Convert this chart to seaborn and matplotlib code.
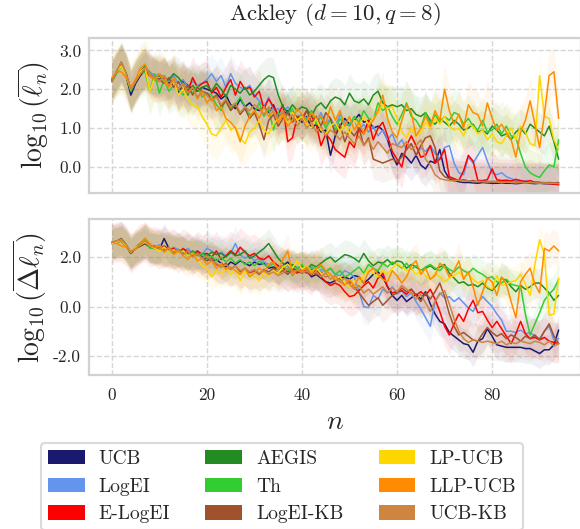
import matplotlib
matplotlib.use('Agg')
import matplotlib.pyplot as plt
from matplotlib.patches import Patch
from matplotlib.ticker import FormatStrFormatter
import numpy as np
import pandas as pd
import seaborn as sns

# methods in legend order (column by column)
methods = ['UCB', 'LogEI', 'E-LogEI', 'AEGIS', 'Th', 'LogEI-KB', 'LP-UCB', 'LLP-UCB', 'UCB-KB']
colors = ['#191970', '#6495ED', '#FF0000', '#228B22', '#32CD32', '#A0522D', '#FFD700', '#FF8C00', '#CD853F']

n_iter = list(range(95))

# ---- top panel: log10(mean l_n) ----
top_ucb = [2.25, 2.45, 2.65, 2.35, 1.85, 2.15, 2.35, 2.50, 2.35, 2.30,
           2.25, 2.35, 2.15, 2.25, 1.90, 2.20, 2.10, 2.00, 1.95, 2.05,
           2.00, 1.95, 1.90, 1.75, 1.85, 1.60, 1.50, 1.75, 1.55, 1.65,
           1.50, 1.45, 1.55, 1.40, 1.60, 1.30, 1.35, 1.45, 1.20, 1.25,
           1.15, 1.30, 1.00, 1.10, 0.90, 0.95, 0.30, 0.80, 1.05, 1.25,
           1.10, 1.20, 1.35, 1.15, 1.20, 1.00, 1.05, 0.95, 0.70, 0.30,
           0.05, 0.35, 0.25, 0.10, 0.30, 0.05, -0.05, 0.15, 0.10, 0.45,
           -0.10, -0.30, -0.35, -0.38, -0.40, -0.40, -0.41, -0.42, -0.40, -0.41,
           -0.42, -0.42, -0.41, -0.42, -0.42, -0.43, -0.42, -0.40, -0.42, -0.43,
           -0.42, -0.43, -0.43, -0.44, -0.44]
top_logei = [2.25, 2.45, 2.65, 2.40, 2.00, 2.25, 2.40, 2.55, 2.45, 2.35,
             2.40, 2.30, 2.20, 2.35, 2.15, 2.25, 2.05, 2.20, 2.10, 2.15,
             2.25, 2.40, 2.20, 2.35, 2.05, 2.40, 2.15, 2.05, 2.00, 2.10,
             1.85, 1.70, 1.55, 1.80, 1.45, 1.50, 1.35, 1.55, 1.40, 1.30,
             1.35, 1.25, 1.45, 1.15, 1.40, 1.10, 1.25, 1.05, 1.35, 1.15,
             1.05, 1.20, 0.95, 1.10, 0.90, 1.05, 0.80, 0.95, 0.70, 0.85,
             0.55, 0.70, 0.45, 0.60, 0.30, 0.50, 0.40, 0.55, 0.35, 0.20,
             0.50, 0.55, 0.10, -0.15, -0.20, 0.25, 0.10, 0.30, 0.50, 0.15,
             -0.15, -0.20, -0.15, -0.25, -0.30, -0.35, -0.38, -0.35, -0.40, -0.38,
             -0.40, -0.40, -0.42, -0.41, -0.42]
top_elogei = [2.20, 2.45, 2.65, 2.40, 1.95, 2.20, 2.40, 2.50, 2.35, 2.25,
              2.20, 2.30, 2.05, 2.25, 2.00, 2.15, 1.95, 2.30, 2.05, 2.15,
              2.20, 1.90, 2.05, 1.80, 2.05, 2.25, 1.85, 2.20, 2.00, 2.05,
              1.80, 1.95, 1.50, 1.75, 1.55, 1.35, 1.60, 0.65, 0.75, 1.30,
              1.25, 1.45, 1.30, 1.10, 0.55, 0.85, 0.70, 0.45, 0.35, 0.25,
              0.65, 0.50, 1.00, 0.85, 1.20, 0.70, 1.00, 1.15, 0.80, 0.40,
              0.20, 0.00, 0.55, 0.80, 0.55, 0.25, 0.30, 0.55, 0.10, 0.20,
              0.45, -0.25, -0.30, -0.35, -0.10, 0.30, 0.15, -0.35, -0.35, -0.33,
              -0.05, -0.33, -0.35, -0.34, -0.36, -0.32, -0.35, -0.38, -0.35, -0.40,
              -0.40, -0.42, -0.43, -0.44, -0.46]
top_aegis = [2.20, 2.45, 2.65, 2.40, 1.95, 2.25, 2.45, 2.60, 2.40, 2.30,
             2.35, 2.20, 2.25, 2.40, 2.30, 2.15, 1.85, 2.10, 1.95, 2.05,
             2.10, 1.95, 2.15, 2.00, 1.80, 2.10, 2.00, 1.90, 2.05, 1.85,
             1.95, 2.10, 2.25, 2.35, 2.30, 1.85, 1.55, 1.40, 1.60, 1.45,
             1.55, 1.50, 1.30, 1.55, 1.65, 1.50, 1.70, 1.80, 1.75, 1.60,
             1.90, 1.70, 1.65, 1.75, 1.60, 1.85, 1.95, 1.65, 1.55, 1.60,
             1.55, 1.60, 1.45, 1.50, 1.35, 1.30, 1.40, 1.20, 1.10, 1.25,
             1.15, 1.05, 1.20, 1.10, 0.95, 1.00, 1.10, 0.90, 0.95, 0.85,
             1.05, 0.95, 0.80, 0.85, 0.70, 0.90, 1.00, 0.85, 1.10, 1.00,
             0.90, 0.80, 1.05, 0.65, 0.20]
top_th = [2.20, 2.40, 2.60, 2.35, 1.95, 2.20, 2.40, 2.45, 1.95, 2.40,
          1.90, 2.25, 1.95, 2.10, 2.00, 1.85, 2.05, 1.90, 2.10, 1.80,
          1.90, 1.85, 1.60, 1.45, 1.75, 1.50, 1.60, 1.80, 1.55, 1.35,
          1.40, 1.65, 1.30, 1.50, 0.95, 1.40, 1.25, 1.35, 1.50, 1.20,
          1.35, 1.20, 1.45, 1.10, 1.30, 1.00, 1.20, 0.95, 1.25, 1.05,
          1.10, 1.30, 1.15, 1.45, 1.25, 1.20, 1.65, 1.45, 1.55, 1.30,
          1.10, 1.35, 1.65, 1.30, 1.20, 1.00, 1.40, 1.10, 1.35, 1.15,
          1.30, 1.20, 1.40, 1.35, 1.10, 1.25, 1.05, 0.95, 1.20, 0.90,
          0.95, 1.10, 0.85, 1.05, 0.80, 0.75, 0.35, 0.00, -0.15, -0.22,
          -0.27, -0.10, 0.05, 0.00, 0.70]
top_logeikb = [2.20, 2.45, 2.70, 2.40, 2.00, 2.20, 2.40, 2.50, 2.35, 2.30,
               2.25, 2.15, 2.30, 2.05, 2.20, 1.95, 2.10, 1.85, 2.05, 1.95,
               1.90, 1.75, 1.85, 1.55, 1.70, 1.45, 1.60, 1.35, 1.50, 1.25,
               1.40, 1.10, 0.70, 1.20, 1.35, 1.05, 1.25, 1.40, 1.15, 1.30,
               1.20, 1.45, 1.15, 1.30, 1.05, 1.40, 1.25, 0.85, 1.10, 0.65,
               0.95, 0.80, 1.00, 0.55, 0.75, 0.20, 0.15, 0.10, 0.15, 0.20,
               0.15, 0.25, 0.45, 0.60, 0.30, 0.55, 0.75, 0.80, 0.50, -0.10,
               -0.25, -0.30, -0.32, -0.35, -0.33, -0.36, -0.35, -0.38, -0.37, -0.38,
               -0.37, -0.38, -0.39, -0.38, -0.40, -0.39, -0.40, -0.40, -0.41, -0.40,
               -0.40, -0.41, -0.40, -0.41, -0.40]
top_lpucb = [2.30, 2.45, 2.60, 2.35, 2.00, 2.25, 2.45, 2.55, 1.95, 2.30,
             2.20, 2.35, 2.05, 2.25, 1.85, 2.00, 1.75, 1.60, 1.55, 1.30,
             1.10, 0.85, 0.80, 1.00, 1.20, 0.95, 1.05, 0.75, 0.60, 0.90,
             1.00, 1.20, 0.95, 0.85, 1.10, 1.25, 1.35, 1.15, 1.40, 1.20,
             1.30, 1.10, 1.00, 1.25, 0.95, 0.85, 1.05, 1.15, 0.90, 1.10,
             0.85, 1.20, 1.05, 1.30, 1.10, 1.25, 1.40, 1.60, 1.50, 1.55,
             1.25, 0.90, 0.75, 1.00, 0.80, 0.90, 1.15, 1.00, 1.25, 1.10,
             1.30, 1.05, 0.95, 1.00, 0.80, 1.10, 1.05, 0.85, 0.95, 0.70,
             0.85, 0.65, 0.60, 0.80, 1.00, 0.70, 1.05, 0.90, 0.60, 0.55,
             2.35, 1.30, 1.25, 0.70, 0.45]
top_llpucb = [2.30, 2.45, 2.45, 2.30, 2.05, 2.25, 2.55, 2.65, 2.35, 2.25,
              2.40, 2.20, 2.05, 2.30, 2.00, 2.15, 1.90, 2.05, 1.75, 1.95,
              1.65, 1.80, 1.45, 1.55, 1.25, 1.15, 1.00, 0.65, 1.05, 1.30,
              1.45, 1.25, 1.55, 1.30, 1.45, 1.15, 1.35, 1.05, 1.20, 1.50,
              1.35, 1.15, 1.40, 1.25, 1.30, 1.10, 1.55, 1.20, 1.45, 1.05,
              1.30, 0.95, 1.15, 0.85, 1.05, 1.20, 1.45, 1.85, 1.25, 0.90,
              0.75, 1.20, 1.60, 1.40, 0.80, 1.00, 1.30, 1.05, 1.45, 1.20,
              2.00, 1.45, 1.10, 1.35, 1.00, 1.60, 1.40, 1.35, 1.05, 1.65,
              1.25, 0.95, 1.10, 0.90, 0.70, 0.25, 0.90, 1.20, 1.70, 1.10,
              0.50, 1.35, 2.35, 2.45, 1.25]
top_ucbkb = [2.20, 2.45, 2.70, 2.40, 2.00, 2.20, 2.40, 2.55, 2.40, 2.30,
             2.20, 2.35, 2.10, 2.25, 2.00, 2.15, 1.90, 2.05, 1.80, 1.95,
             1.85, 1.70, 1.80, 1.60, 1.75, 1.55, 1.65, 1.40, 1.55, 1.45,
             1.60, 1.50, 1.35, 1.55, 1.40, 1.25, 1.45, 1.20, 1.35, 1.05,
             1.25, 1.00, 1.15, 0.90, 1.05, 0.80, 0.95, 0.85, 0.70, 0.90,
             0.75, 0.60, 0.80, 0.55, 0.70, 0.45, 0.65, 0.50, 0.35, 0.60,
             0.55, 0.50, 0.65, 0.45, 0.55, 0.70, 0.20, 0.05, -0.20, -0.30,
             -0.33, -0.35, -0.36, -0.34, -0.37, -0.36, -0.38, -0.37, -0.38, -0.39,
             -0.38, -0.39, -0.40, -0.39, -0.40, -0.41, -0.40, -0.41, -0.40, -0.41,
             -0.42, -0.41, -0.42, -0.42, -0.43]

# ---- bottom panel: log10(mean delta l_n) ----
bot_ucb = [2.55, 2.60, 2.70, 2.50, 2.15, 2.35, 2.45, 2.55, 2.40, 2.35,
           2.30, 2.75, 2.35, 2.30, 2.20, 2.25, 2.10, 2.05, 2.15, 2.00,
           1.95, 1.85, 1.90, 1.75, 1.60, 1.80, 1.70, 1.85, 1.75, 1.65,
           1.80, 1.70, 1.75, 1.55, 1.60, 1.50, 1.65, 1.80, 1.55, 1.45,
           1.35, 1.45, 1.20, 1.30, 1.15, 1.00, 0.95, 1.05, 1.15, 1.20,
           1.10, 1.25, 1.20, 0.95, 1.10, 1.30, 1.40, 1.20, 0.80, 0.45,
           0.25, 0.45, 0.20, 0.35, 0.50, 0.30, 0.60, 0.10, -0.30, -0.60,
           -0.70, -1.05, -1.20, -1.35, -1.50, -1.55, -1.85, -1.40, -1.30, -0.90,
           -1.20, -1.55, -1.60, -1.65, -1.65, -1.65, -1.65, -1.70, -1.70, -1.80,
           -1.90, -1.75, -1.75, -1.55, -0.95]
bot_logei = [2.60, 2.60, 2.70, 2.50, 2.20, 2.40, 2.50, 2.65, 2.45, 2.40,
             2.50, 2.35, 2.25, 2.40, 2.30, 2.20, 2.35, 2.15, 2.25, 2.10,
             2.35, 2.25, 2.10, 2.20, 2.05, 2.15, 2.55, 2.10, 1.95, 2.05,
             1.85, 1.95, 1.80, 1.70, 1.80, 1.60, 1.55, 1.70, 1.25, 1.45,
             1.55, 1.40, 1.60, 1.35, 1.50, 1.40, 1.55, 1.30, 1.25, 1.45,
             1.35, 1.20, 0.60, 0.00, -0.05, 0.45, 0.30, 0.70, 0.55, 0.80,
             0.50, 0.65, 0.40, 0.55, 0.20, -0.10, -0.45, -0.80, 0.20, 0.55,
             0.35, 0.40, 0.20, 0.35, 0.15, -0.05, -0.20, 0.15, 0.40, 0.20,
             0.00, -0.30, -0.55, -1.00, -1.00, -1.05, -0.95, -1.10, -1.05, -1.20,
             -1.30, -1.00, -0.80, -1.35, -1.30]
bot_elogei = [2.55, 2.60, 2.65, 2.45, 2.15, 2.35, 2.55, 2.60, 2.40, 2.45,
              2.30, 2.45, 2.30, 2.35, 2.15, 2.35, 2.20, 2.05, 2.25, 2.10,
              2.15, 2.00, 2.25, 1.90, 2.05, 2.25, 2.10, 2.40, 2.20, 2.05,
              2.15, 1.95, 1.90, 2.05, 1.80, 1.65, 1.55, 1.40, 1.55, 1.35,
              1.50, 1.40, 1.25, 1.55, 1.20, 1.00, 0.85, 0.95, 0.85, 0.60,
              0.40, 0.45, 0.65, 0.85, 1.00, 0.75, 1.15, 1.35, 0.80, 0.55,
              0.60, 0.65, 0.50, 0.70, 0.45, 0.60, 0.45, 0.70, 0.30, -0.20,
              -0.80, -1.15, -0.70, -0.30, -0.60, -0.10, 0.25, -0.25, -0.20, -0.55,
              -0.85, -0.60, -0.90, -1.20, -1.50, -1.10, -0.60, -1.10, -1.30, -1.25,
              -1.35, -1.25, -1.40, -1.45, -1.50]
bot_aegis = [2.55, 2.60, 2.70, 2.45, 2.15, 2.40, 2.55, 2.75, 2.45, 2.35,
             2.40, 2.25, 2.35, 2.15, 2.30, 2.20, 2.05, 2.25, 2.10, 2.15,
             2.05, 2.20, 2.10, 2.15, 2.00, 2.20, 2.05, 2.10, 2.25, 1.95,
             2.05, 2.20, 2.35, 2.55, 2.25, 1.95, 1.75, 1.65, 1.70, 1.55,
             1.65, 1.50, 1.70, 1.60, 1.75, 1.90, 2.00, 1.80, 1.95, 2.10,
             2.05, 1.95, 1.80, 2.15, 1.85, 1.65, 1.80, 1.75, 1.90, 1.70,
             1.85, 1.80, 1.55, 1.70, 1.60, 1.45, 1.55, 1.65, 1.50, 1.60,
             1.70, 1.35, 1.15, 0.95, 1.00, 0.85, 0.90, 0.80, 0.95, 0.75,
             0.65, 0.85, 1.15, 1.05, 0.80, 0.60, 0.85, 0.70, 0.80, 0.95,
             0.95, 0.75, 0.55, 0.25, 0.45]
bot_th = [2.55, 2.60, 2.65, 2.45, 2.15, 2.35, 2.50, 2.70, 2.35, 2.40,
          2.30, 2.40, 2.20, 2.30, 2.15, 2.25, 2.05, 2.20, 2.05, 2.15,
          1.95, 2.05, 1.85, 2.00, 1.80, 1.95, 1.75, 1.90, 1.70, 1.80,
          1.65, 1.85, 1.70, 1.60, 1.75, 1.50, 1.65, 1.45, 1.60, 1.55,
          1.70, 1.45, 1.60, 1.50, 1.65, 1.40, 1.55, 1.30, 1.45, 1.20,
          1.30, 1.45, 1.60, 1.35, 1.70, 1.55, 1.45, 1.75, 1.60, 1.80,
          1.70, 1.55, 1.75, 1.50, 1.65, 1.45, 1.60, 1.70, 1.55, 1.45,
          1.65, 1.50, 1.40, 1.60, 1.45, 1.35, 1.55, 1.40, 1.30, 1.15,
          1.20, 1.00, 0.95, 1.10, 0.90, 0.85, 0.80, -0.30, -1.15, -0.70,
          -0.25, 0.25, 0.50, 0.70, 1.10]
bot_logeikb = [2.60, 2.65, 2.75, 2.50, 2.15, 2.35, 2.45, 2.60, 2.45, 2.35,
               2.40, 2.30, 2.35, 2.20, 2.30, 2.15, 2.25, 2.05, 2.15, 1.95,
               1.85, 1.95, 1.70, 1.60, 1.75, 1.50, 1.65, 1.40, 1.55, 1.35,
               1.45, 1.30, 1.50, 1.40, 1.55, 1.35, 1.45, 1.30, 1.50, 1.40,
               1.45, 1.35, 1.50, 1.30, 1.40, 1.20, 1.30, 1.05, 1.15, 0.90,
               1.00, 0.80, 0.55, 0.30, 0.05, 0.20, 0.35, 0.05, 0.25, 0.45,
               0.55, 0.75, 0.60, 0.70, 0.45, 0.20, 0.55, 0.30, 0.60, 0.95,
               0.40, -0.30, -0.80, -1.15, -1.05, -1.20, -1.35, -1.40, -1.10, -0.85,
               -1.05, -1.20, -1.10, -1.30, -1.15, -1.25, -1.40, -1.20, -1.30, -1.15,
               -1.35, -1.00, -0.70, -1.20, -1.50]
bot_lpucb = [2.55, 2.60, 2.70, 2.45, 2.20, 2.40, 2.50, 2.60, 2.45, 2.35,
             2.25, 2.40, 2.20, 2.30, 2.15, 2.25, 2.05, 2.15, 1.90, 1.65,
             1.55, 1.20, 1.45, 1.35, 1.55, 1.30, 1.50, 1.05, 1.40, 1.30,
             1.25, 1.05, 1.40, 1.20, 1.45, 1.35, 1.60, 1.70, 1.55, 1.85,
             1.50, 1.65, 1.40, 1.55, 1.35, 1.25, 1.30, 1.10, 1.20, 0.95,
             0.80, 1.05, 0.90, 1.25, 1.50, 1.35, 1.20, 1.45, 1.30, 1.55,
             1.75, 1.60, 1.45, 1.55, 1.30, 1.45, 1.25, 1.10, 1.35, 1.20,
             1.00, 1.15, 1.25, 1.40, 1.20, 1.30, 1.10, 0.95, 1.05, 0.80,
             0.70, 1.25, 0.85, 0.90, 1.00, 1.05, 1.30, 0.90, 0.45, 1.70,
             2.70, 2.10, -0.35, -0.30, 1.15]
bot_llpucb = [2.60, 2.55, 2.45, 2.40, 2.25, 2.30, 2.55, 2.75, 2.55, 2.40,
              2.45, 2.20, 2.35, 2.10, 2.25, 2.05, 1.90, 2.15, 1.85, 1.95,
              1.70, 1.85, 1.55, 1.75, 1.50, 1.60, 1.45, 1.30, 1.55, 1.20,
              1.35, 1.55, 1.40, 1.70, 1.80, 1.50, 1.90, 2.25, 1.30, 1.50,
              1.40, 1.60, 1.35, 1.55, 1.70, 1.45, 1.30, 1.10, 1.00, 0.85,
              1.10, 0.80, 1.20, 0.95, 1.40, 1.55, 1.30, 1.10, 1.00, 1.45,
              1.25, 0.95, 1.20, 1.65, 1.85, 1.30, 1.55, 1.10, 1.25, 1.75,
              1.60, 1.20, 1.45, 1.85, 1.10, 1.40, 0.80, 0.05, 0.60, 1.15,
              1.00, 0.45, 1.20, 0.90, 0.20, -0.45, 1.00, 1.30, 1.55, 0.90,
              0.55, 2.35, 2.25, 2.45, 2.25]
bot_ucbkb = [2.60, 2.65, 2.70, 2.50, 2.20, 2.35, 2.50, 2.65, 2.45, 2.40,
             2.35, 2.25, 2.40, 2.20, 2.30, 2.10, 2.25, 2.00, 2.15, 1.95,
             2.05, 1.85, 1.75, 1.60, 1.70, 1.50, 1.65, 1.45, 1.55, 1.40,
             1.50, 1.35, 1.45, 1.30, 1.40, 1.25, 1.35, 1.55, 1.40, 1.50,
             1.35, 1.45, 1.30, 1.40, 1.20, 1.35, 1.10, 1.25, 1.00, 1.15,
             0.90, 0.70, 0.85, 0.55, 0.70, 0.50, 0.65, 0.80, 0.55, 0.75,
             0.60, 0.85, 0.70, 0.55, 0.30, 0.50, 0.15, -0.20, 0.20, 0.50,
             0.65, 0.10, -0.50, -1.00, -1.30, -1.45, -1.35, -1.40, -1.45, -1.40,
             -1.45, -1.50, -1.40, -1.55, -1.45, -1.50, -1.40, -1.45, -1.50, -1.40,
             -1.45, -1.55, -1.40, -1.60, -1.50]

# spread of the shaded bands (half width, per method)
top_band = [0.45, 0.50, 0.55, 0.50, 0.60, 0.50, 0.60, 0.60, 0.50]
bot_band = [0.60, 0.70, 0.80, 0.60, 0.60, 0.70, 0.60, 0.70, 0.70]

top_series = [top_ucb, top_logei, top_elogei, top_aegis, top_th,
              top_logeikb, top_lpucb, top_llpucb, top_ucbkb]
bot_series = [bot_ucb, bot_logei, bot_elogei, bot_aegis, bot_th,
              bot_logeikb, bot_lpucb, bot_llpucb, bot_ucbkb]


def to_long(series):
    frames = []
    for name, vals in zip(methods, series):
        frames.append(pd.DataFrame({'n': n_iter, 'value': vals, 'method': name}))
    return pd.concat(frames, ignore_index=True)


df_top = to_long(top_series)
df_bot = to_long(bot_series)

sns.set_style('whitegrid', {'grid.linestyle': '--', 'grid.color': '.84',
                            'axes.edgecolor': '.82'})
plt.rcParams['font.family'] = ['cmr10', 'DejaVu Serif']
plt.rcParams['mathtext.fontset'] = 'cm'
plt.rcParams['axes.unicode_minus'] = False
plt.rcParams['axes.formatter.use_mathtext'] = False

palette = dict(zip(methods, colors))

fig = plt.figure(figsize=(5.8, 5.29), dpi=100)
ax_top = fig.add_axes([0.1543, 0.6352, 0.8474, 0.2930])
ax_bot = fig.add_axes([0.1543, 0.2911, 0.8474, 0.2949])

for ax, df, series, band in [(ax_top, df_top, top_series, top_band),
                             (ax_bot, df_bot, bot_series, bot_band)]:
    for vals, c, b in zip(series, colors, band):
        v = np.array(vals)
        ax.fill_between(n_iter, v - b, v + b, color=c, alpha=0.07, linewidth=0)
    sns.lineplot(data=df, x='n', y='value', hue='method', hue_order=methods,
                 palette=palette, linewidth=1.1, legend=False, ax=ax)
    ax.set_xlim(-4.7, 98.7)
    ax.set_xticks([0, 20, 40, 60, 80])
    ax.grid(True, linestyle='--', linewidth=1.0, color='.84')
    for sp in ax.spines.values():
        sp.set_linewidth(1.6)
        sp.set_color('.82')
    ax.yaxis.set_major_formatter(FormatStrFormatter('%.1f'))
    ax.tick_params(axis='y', labelsize=12.5, pad=6, length=0)
    ax.tick_params(axis='x', labelsize=12.5, pad=9, length=0)

ax_top.set_ylim(-0.67, 3.32)
ax_top.set_yticks([0, 1, 2, 3])
ax_top.set_xticklabels([])
ax_top.set_xlabel('')
ax_top.set_ylabel(r'$\log_{10}(\overline{\ell_n})$', fontsize=20, labelpad=5)
ax_top.set_title(r'Ackley ($d=10, q=8$)', fontsize=16.5, pad=13)

ax_bot.set_ylim(-2.77, 3.54)
ax_bot.set_yticks([-2, 0, 2])
ax_bot.set_xlabel(r'$n$', fontsize=20, labelpad=4)
ax_bot.set_ylabel(r'$\log_{10}(\overline{\Delta\ell_n})$', fontsize=20, labelpad=3)

handles = [Patch(facecolor=c, edgecolor='none', label=m) for m, c in zip(methods, colors)]
leg = fig.legend(handles=handles, loc='upper center', bbox_to_anchor=(0.486, 0.1626),
                 ncol=3, fontsize=14, frameon=True, fancybox=True,
                 handlelength=1.9, handleheight=0.77, handletextpad=0.72,
                 columnspacing=1.8, labelspacing=0.5, borderpad=0.35,
                 borderaxespad=0)
leg.get_frame().set_edgecolor('.82')
leg.get_frame().set_linewidth(1.5)

fig.savefig('out.png', dpi=100)
